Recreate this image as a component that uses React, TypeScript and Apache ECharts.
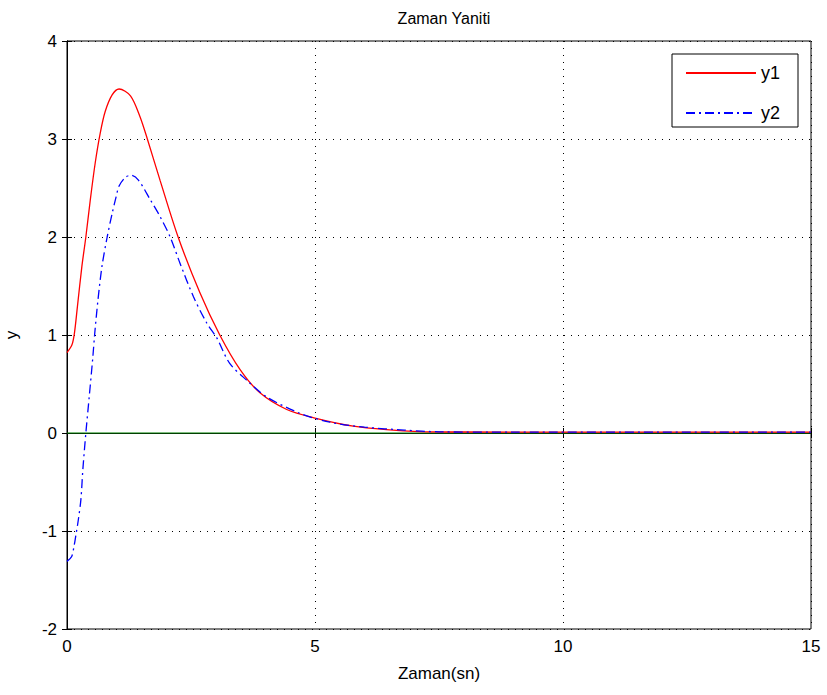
import React, { useEffect, useRef } from "react";
import * as echarts from "echarts";

const t1 = [0, 0.1, 0.15, 0.21, 0.3, 0.38, 0.47, 0.57, 0.67, 0.77, 0.91, 1.05, 1.28, 1.47, 1.62, 1.875, 2.24, 2.68, 3.08, 3.49, 3.89, 4.43, 5, 5.77, 6.44, 7.1, 8, 10, 12, 15];
const y1 = [0.82, 0.9, 1.02, 1.29, 1.7, 2.0, 2.38, 2.76, 3.06, 3.28, 3.45, 3.51, 3.44, 3.23, 3.0, 2.58, 2.0, 1.43, 1.0, 0.646, 0.41, 0.24, 0.153, 0.07, 0.034, 0.015, 0.01, 0.008, 0.008, 0.008];
const t2 = [0, 0.095, 0.14, 0.18, 0.23, 0.28, 0.32, 0.38, 0.45, 0.52, 0.56, 0.625, 0.705, 0.81, 0.91, 0.99, 1.05, 1.18, 1.29, 1.44, 1.68, 1.875, 2.08, 2.28, 2.55, 2.82, 3.02, 3.28, 3.62, 4.02, 4.7, 5.3, 6.0, 6.8, 7.5, 9, 12, 15];
const y2 = [-1.31, -1.26, -1.16, -1.04, -0.88, -0.68, -0.37, 0, 0.38, 0.77, 1.02, 1.36, 1.7, 2.0, 2.24, 2.41, 2.52, 2.61, 2.63, 2.58, 2.38, 2.21, 2.0, 1.73, 1.39, 1.12, 0.97, 0.71, 0.54, 0.37, 0.2, 0.11, 0.06, 0.03, 0.012, 0.008, 0.008, 0.008];
const xTicks = [0, 5, 10, 15];
const yRange = [-2, 4];
const seriesNames = ["y1", "y2"];

const FONT = "Liberation Sans";

export default function App() {
  const ref = useRef<HTMLDivElement>(null);
  useEffect(() => {
    if (!ref.current) return;
    const chart = echarts.init(ref.current, null, { renderer: "svg" });
    const d1 = t1.map((t, i) => [t, y1[i]]);
    const d2 = t2.map((t, i) => [t, y2[i]]);
    const grid = { left: 67, top: 41, width: 744, height: 588 };
    const dotted = { show: true, lineStyle: { color: "#000", type: [1, 6] as any, width: 1 } };
    chart.setOption({
      animation: false,
      backgroundColor: "#fff",
      title: {
        text: "Zaman Yaniti",
        left: 439,
        textAlign: "center",
        top: 5,
        textStyle: { fontFamily: FONT, fontSize: 16, fontWeight: "normal", color: "#000" },
      },
      legend: {
        left: 672,
        top: 54,
        orient: "vertical",
        data: seriesNames,
        backgroundColor: "#fff",
        borderColor: "#000",
        borderWidth: 1,
        borderRadius: 0,
        padding: [10, 18, 5, 13],
        itemGap: 22,
        itemWidth: 70,
        itemHeight: 18,
        itemStyle: { opacity: 0 },
        textStyle: { fontFamily: FONT, fontSize: 18, color: "#000" },
      },
      grid: { ...grid, outerBoundsMode: "none", containLabel: false, show: true, borderColor: "#000", borderWidth: 1, backgroundColor: "transparent" },
      xAxis: [
        {
          type: "value",
          min: 0,
          max: 15,
          interval: 5,
          name: "Zaman(sn)",
          nameLocation: "middle",
          nameGap: 36,
          nameTextStyle: { fontFamily: FONT, fontSize: 17, color: "#000" },
          axisLine: { show: true, lineStyle: { color: "#000" } },
          axisTick: { show: true, inside: true, length: 5, lineStyle: { color: "#000" } },
          axisLabel: { fontFamily: FONT, fontSize: 17, color: "#000", margin: 9 },
          splitLine: dotted,
        },
        {
          type: "value",
          position: "top",
          min: 0,
          max: 15,
          interval: 5,
          axisLine: { show: true, lineStyle: { color: "#000" } },
          axisTick: { show: true, inside: true, length: 5, lineStyle: { color: "#000" } },
          axisLabel: { show: false },
          splitLine: { show: false },
        },
      ],
      yAxis: [
        {
          type: "value",
          min: yRange[0],
          max: yRange[1],
          interval: 1,
          name: "y",
          nameLocation: "middle",
          nameGap: 47,
          nameTextStyle: { fontFamily: FONT, fontSize: 17, color: "#000" },
          axisLine: { show: true, lineStyle: { color: "#000" } },
          axisTick: { show: true, inside: true, length: 5, lineStyle: { color: "#000" } },
          axisLabel: { fontFamily: FONT, fontSize: 17, color: "#000", margin: 10 },
          splitLine: dotted,
        },
        {
          type: "value",
          position: "right",
          min: yRange[0],
          max: yRange[1],
          interval: 1,
          axisLine: { show: true, lineStyle: { color: "#000" } },
          axisTick: { show: true, inside: true, length: 5, lineStyle: { color: "#000" } },
          axisLabel: { show: false },
          splitLine: { show: false },
        },
      ],
      series: [
        {
          name: "zero",
          type: "line",
          data: [[xTicks[0], 0], [xTicks[xTicks.length - 1], 0]],
          symbol: "none",
          lineStyle: { color: "#008000", width: 1.2 },
          itemStyle: { color: "#008000" },
          silent: true,
          z: 1,
        },
        {
          name: seriesNames[0],
          type: "line",
          data: d1,
          smooth: 0.3,
          symbol: "none",
          lineStyle: { color: "#ff0000", width: 1.3 },
          itemStyle: { color: "#ff0000" },
          z: 3,
        },
        {
          name: seriesNames[1],
          type: "line",
          data: d2,
          smooth: 0.3,
          symbol: "none",
          lineStyle: { color: "#0000ff", width: 1.3, type: [9, 4, 2, 4] },
          itemStyle: { color: "#0000ff" },
          z: 4,
        },
      ],
    });
    return () => chart.dispose();
  }, []);
  return <div ref={ref} style={{ width: 827, height: 695, position: "absolute", left: 0, top: 0 }} />;
}
